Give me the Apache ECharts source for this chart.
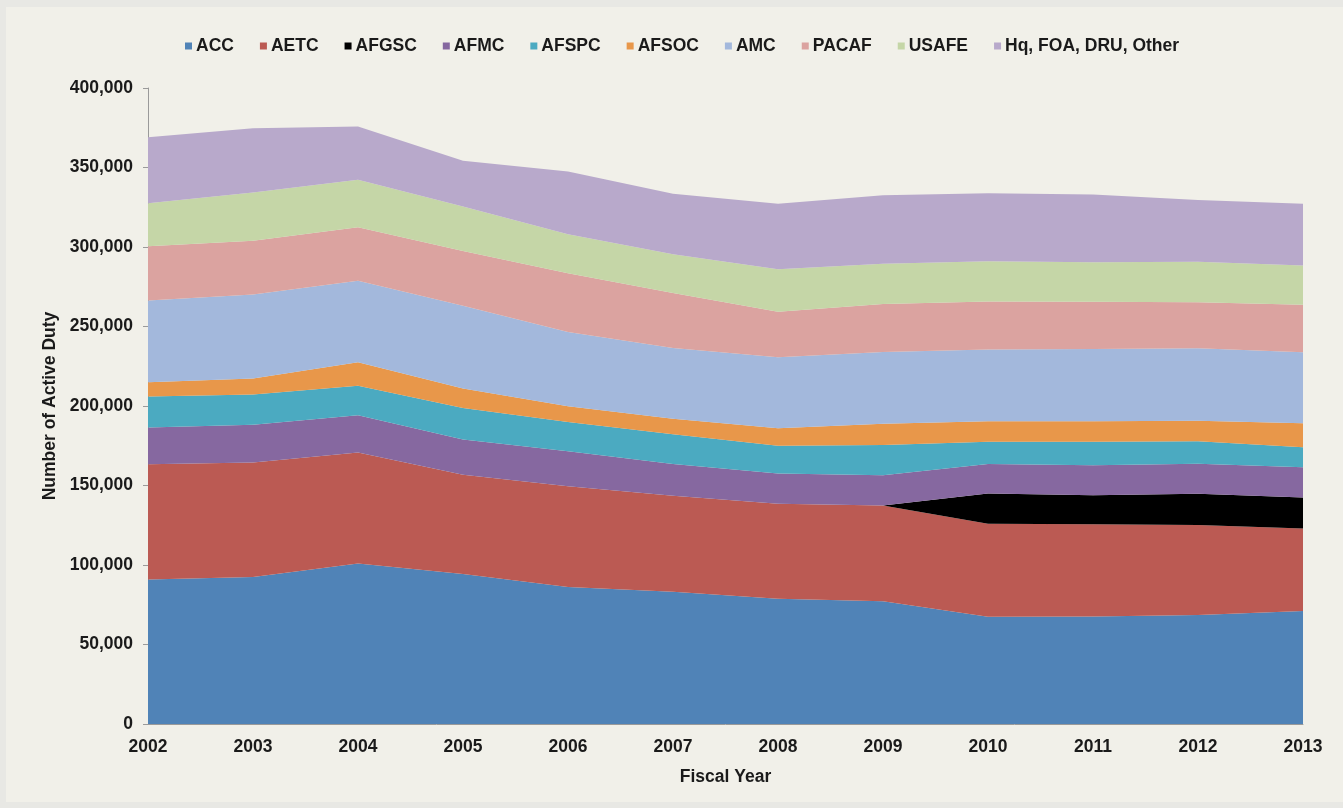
<!DOCTYPE html>
<html>
<head>
<meta charset="utf-8">
<script src="https://cdn.jsdelivr.net/npm/echarts@6/dist/echarts.min.js"></script>
<style>
  html, body { margin: 0; padding: 0; background: #E8E8E4; }
  #chart { position: absolute; left: 6px; top: 7px; width: 1337px; height: 795px; }
</style>
</head>
<body>
<div id="chart"></div>
<script>
const years = ['2002','2003','2004','2005','2006','2007','2008','2009','2010','2011','2012','2013'];
const yTicks = [0, 50000, 100000, 150000, 200000, 250000, 300000, 350000, 400000];

const acc   = [90900, 92500, 101000, 94300, 86200, 83200, 78700, 77200, 67400, 67600, 68600, 71000];
const aetc  = [72400, 72000, 69800, 62500, 63300, 60300, 59900, 60300, 58600, 58000, 56600, 51900];
const afgsc = [0, 0, 0, 0, 0, 0, 0, 0, 19000, 18200, 19600, 19500];
const afmc  = [23200, 23700, 23400, 22200, 22000, 20000, 18900, 18900, 18500, 19000, 18900, 19000];
const afspc = [19500, 19000, 18600, 19800, 18500, 18800, 17500, 19100, 14000, 14700, 14200, 12700];
const afsoc = [9000, 10100, 14700, 12200, 9800, 9700, 11000, 13300, 12900, 12900, 12900, 15100];
const amc   = [51400, 52900, 51300, 52000, 46700, 44500, 44700, 45200, 45100, 45500, 45500, 44600];
const pacaf = [34100, 33800, 33700, 34500, 37000, 34500, 28500, 30200, 30300, 29700, 29000, 29900];
const usafe = [27000, 30200, 29800, 28000, 24500, 24500, 26800, 25300, 25200, 24800, 25500, 24600];
const hq    = [41500, 40500, 33500, 28700, 39500, 38000, 41200, 43000, 42800, 42600, 38700, 38900];

const seriesNames = ['ACC','AETC','AFGSC','AFMC','AFSPC','AFSOC','AMC','PACAF','USAFE','Hq, FOA, DRU, Other'];
const seriesData  = [acc, aetc, afgsc, afmc, afspc, afsoc, amc, pacaf, usafe, hq];
const colors = ['#5083B7','#BB5A53','#000000','#8668A0','#4BAAC1','#E8974A','#A3B8DC','#DBA3A0','#C5D6A7','#B8A9CB'];

const font = 'Liberation Sans, Arial, sans-serif';
const txt = { fontFamily: font, fontWeight: 'bold', fontSize: 17.5, color: '#1a1a1a' };
const chart = echarts.init(document.getElementById('chart'));
chart.setOption({
  backgroundColor: '#F1F0E9',
  color: colors,
  animation: false,
  legend: {
    data: seriesNames,
    top: 25,
    left: 174,
    icon: 'rect',
    itemWidth: 7,
    itemHeight: 7,
    itemGap: 26,
    textStyle: Object.assign({}, txt, { padding: [0, 0, 0, -1] })
  },
  grid: { left: 142, right: 40, top: 81, bottom: 78 },
  xAxis: {
    type: 'category',
    data: years,
    boundaryGap: false,
    name: 'Fiscal Year',
    nameLocation: 'middle',
    nameGap: 44,
    nameTextStyle: txt,
    axisLine: { lineStyle: { color: '#9a9a9a', width: 1 } },
    axisTick: { show: false },
    axisLabel: Object.assign({}, txt, { margin: 14 })
  },
  yAxis: {
    type: 'value',
    min: yTicks[0],
    max: yTicks[yTicks.length - 1],
    interval: 50000,
    name: 'Number of Active Duty',
    nameLocation: 'middle',
    nameGap: 88,
    nameRotate: 90,
    nameTextStyle: txt,
    axisLine: { show: true, lineStyle: { color: '#9a9a9a', width: 1 } },
    axisTick: { show: true, length: 5, lineStyle: { color: '#9a9a9a' } },
    splitLine: { show: false },
    axisLabel: Object.assign({}, txt, {
      margin: 15,
      formatter: v => v.toLocaleString('en-US')
    })
  },
  series: seriesNames.map((n, i) => ({
    name: n,
    type: 'line',
    stack: 'total',
    data: seriesData[i],
    symbol: 'none',
    lineStyle: { width: 0 },
    areaStyle: { color: colors[i], opacity: 1 },
    emphasis: { disabled: true }
  }))
});
</script>
</body>
</html>
